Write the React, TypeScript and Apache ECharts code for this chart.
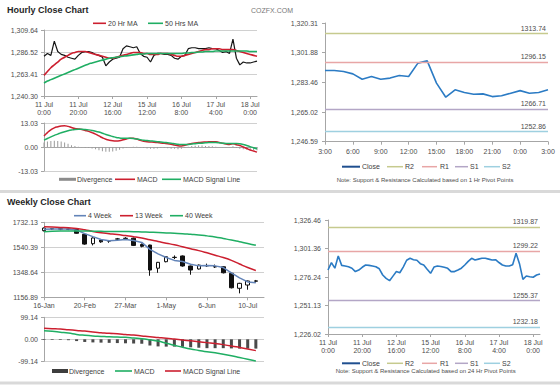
import React, { useEffect, useRef } from 'react';
import * as echarts from 'echarts';

const FONT = '"Liberation Sans", Arial, sans-serif';
const AXIS = '#a6a6a6';
const GRIDC = '#d0d0d0';
const LABEL = '#4d4d4d';

// ---------- Hourly close chart (top left) ----------
const hourTickLabels = ['11 Jul\n0:00', '11 Jul\n20:00', '12 Jul\n16:00', '15 Jul\n12:00', '16 Jul\n8:00', '17 Jul\n4:00', '18 Jul\n0:00'];
const hourlyYLabels = ['1,240.30', '1,263.41', '1,286.52', '1,309.64'];
const hourlyMacdYLabels = ['-13.03', '0.00', '13.03'];

const hourlyClose = [
  1282, 1285, 1283, 1298, 1287, 1284, 1283, 1281, 1280, 1279,
  1283, 1286, 1287, 1287, 1286, 1284, 1283, 1281, 1272, 1276,
  1279, 1280, 1281, 1290, 1293, 1292, 1291, 1292, 1285, 1282,
  1281, 1276, 1283, 1285, 1285, 1284, 1284, 1283, 1280, 1279,
  1282, 1283, 1290, 1291, 1291, 1290, 1290, 1290, 1291, 1290,
  1290, 1288, 1286, 1287, 1285, 1300, 1280, 1273, 1276, 1275,
  1275, 1276, 1277,
];
const hourlyMA20 = [
  1262, 1266, 1270, 1273, 1276, 1279, 1281, 1283, 1285, 1286,
  1287, 1287, 1287, 1286, 1285, 1284, 1283, 1282, 1281, 1280,
  1280, 1281, 1282, 1283, 1284, 1285, 1286, 1286, 1286, 1285,
  1285, 1284, 1284, 1284, 1285, 1285, 1285, 1284, 1283, 1282,
  1282, 1283, 1284, 1285, 1286, 1287, 1288, 1289, 1289, 1290,
  1290, 1290, 1289, 1289, 1289, 1289, 1288, 1287, 1286, 1285,
  1284, 1283, 1282,
];
const hourlyMA50 = [
  1254, 1256, 1257.5, 1259, 1260.5, 1262, 1263.5, 1265, 1266.5, 1268,
  1269.5, 1271, 1272.5, 1274, 1275, 1276, 1277, 1278, 1279, 1280,
  1280.5, 1281, 1281.5, 1282, 1282.5, 1283, 1283.5, 1284, 1284.5, 1284.5,
  1285, 1285, 1285, 1285, 1285, 1285, 1285, 1285, 1285, 1285,
  1285, 1285.5, 1285.5, 1286, 1286, 1286.5, 1286.5, 1287, 1287, 1287,
  1287.5, 1287.5, 1287.5, 1287.5, 1287.5, 1287.5, 1287.5, 1287.5, 1287.5, 1287.5,
  1287, 1287, 1287,
];
const hourlyMacd = [
  6.0, 7.8, 9.3, 10.4, 11.0, 11.4, 11.5, 11.2, 10.6, 10.0,
  9.8, 9.5, 9.0, 8.5, 7.8, 7.0, 6.0, 5.0, 4.2, 3.7,
  3.4, 3.3, 3.4, 3.9, 4.4, 4.7, 4.7, 4.3, 3.6, 3.1,
  2.8, 2.7, 2.6, 2.4, 2.2, 2.0, 1.8, 1.5, 1.1, 0.7,
  0.6, 0.9, 1.5, 1.9, 2.2, 2.4, 2.6, 2.7, 2.8, 2.9,
  2.8, 2.5, 2.0, 1.6, 1.4, 1.8, 1.2, 0.8, 0.0, -0.8,
  -1.6, -2.2, -2.8,
];
const hourlySignal = [
  3.7, 4.6, 5.5, 6.3, 7.0, 7.7, 8.3, 8.8, 9.2, 9.5,
  9.6, 9.6, 9.5, 9.3, 9.0, 8.6, 8.1, 7.5, 6.8, 6.2,
  5.7, 5.2, 4.9, 4.7, 4.7, 4.7, 4.6, 4.3, 4.0, 3.7,
  3.5, 3.3, 3.1, 2.9, 2.7, 2.5, 2.3, 2.1, 1.8, 1.5,
  1.3, 1.3, 1.4, 1.6, 1.8, 2.0, 2.1, 2.3, 2.4, 2.4,
  2.4, 2.3, 2.1, 1.9, 1.9, 1.9, 1.9, 1.8, 1.4, 0.8,
  0.2, -0.4, -0.9,
];
const hourlyDivergence = [
  2.5, 3.0, 3.3, 3.4, 3.2, 3.0, 2.5, 1.8, 1.0, 0.5,
  0.2, -0.2, -0.4, -0.5, -0.8, -1.2, -1.8, -2.3, -2.6, -2.6,
  -2.4, -2.0, -1.5, -0.8, -0.3, 0.0, 0.2, 0.1, -0.3, -0.6,
  -0.8, -1.0, -0.9, -0.8, -0.6, -0.6, -0.7, -0.9, -1.0, -1.2,
  -1.0, -0.5, 0.2, 0.5, 0.7, 0.8, 0.8, 0.6, 0.5, 0.4,
  0.2, 0.0, -0.2, -0.3, -0.2, 0.4, -0.5, -0.9, -1.2, -1.4,
  -1.5, -1.6, -1.7,
];

// ---------- 1 day support / resistance (top right) ----------
const srHourLabels = Array.from({ length: 25 }, (_, i) => `${(3 + i) % 24}:00`);
const srHourYLabels = ['1,246.59', '1,265.02', '1,283.46', '1,301.88', '1,320.31'];
const srHourClose = [
  1290.8, 1290.8, 1290.2, 1288.7, 1285.4, 1287.1, 1285.4, 1286.1, 1287.7, 1287.1,
  1295.4, 1296.8, 1283.0, 1274.2, 1278.8, 1277.1, 1276.1, 1276.3, 1274.6, 1275.1,
  1276.7, 1278.3, 1276.7, 1277.1, 1278.8,
];
const srHourLevels = [1313.74, 1296.15, 1266.71, 1252.86];

// ---------- Weekly close chart (bottom left) ----------
const weekLabels = [
  '16-Jan', '23-Jan', '30-Jan', '6-Feb', '13-Feb', '20-Feb', '27-Feb', '6-Mar', '13-Mar', '20-Mar',
  '27-Mar', '3-Apr', '10-Apr', '17-Apr', '24-Apr', '1-May', '8-May', '15-May', '22-May', '29-May',
  '6-Jun', '12-Jun', '19-Jun', '26-Jun', '3-Jul', '10-Jul', '17-Jul', '',
];
const weeklyYLabels = ['1156.89', '1348.64', '1540.39', '1732.13'];
const weeklyMacdYLabels = ['-99.14', '0.00', '99.14'];
// [open, close, low, high]
const weekCandles = [
  [1668, 1688, 1662, 1692], [1683, 1681, 1675, 1688], [1682, 1680, 1672, 1688], [1680, 1678, 1672, 1684],
  [1676, 1648, 1645, 1680], [1640, 1565, 1560, 1645], [1568, 1612, 1555, 1618], [1596, 1582, 1575, 1600],
  [1590, 1588, 1575, 1596], [1603, 1605, 1596, 1612], [1608, 1610, 1600, 1618], [1610, 1555, 1550, 1615],
  [1562, 1548, 1540, 1570], [1558, 1366, 1322, 1560], [1380, 1425, 1345, 1428], [1430, 1468, 1425, 1472],
  [1462, 1464, 1450, 1478], [1474, 1397, 1392, 1478], [1397, 1366, 1330, 1400], [1374, 1404, 1370, 1408],
  [1398, 1400, 1390, 1415], [1392, 1390, 1382, 1408], [1391, 1345, 1340, 1395], [1341, 1230, 1225, 1345],
  [1226, 1264, 1187, 1268], [1251, 1282, 1215, 1285], [1280, 1283, 1270, 1290],
];
const ma4Week = [
  1678, 1680, 1681, 1680, 1672, 1645, 1622, 1600, 1590, 1594,
  1600, 1592, 1578, 1525, 1490, 1462, 1440, 1432, 1410, 1398,
  1400, 1398, 1385, 1345, 1306, 1275, 1268,
];
const ma13Week = [
  1698, 1696, 1693, 1690, 1685, 1675, 1662, 1652, 1645, 1638,
  1630, 1622, 1612, 1598, 1585, 1572, 1560, 1545, 1530, 1515,
  1498, 1480, 1462, 1440, 1412, 1385, 1362,
];
const ma40Week = [
  1660, 1663, 1665, 1666, 1666, 1665, 1664, 1663, 1662, 1662,
  1661, 1660, 1658, 1656, 1654, 1651, 1648, 1645, 1640, 1635,
  1628, 1620, 1608, 1596, 1583, 1570, 1556,
];
const weeklyMacd = [
  39, 36, 32, 28, 22, 18, 15, 13, 11, 10,
  9, 6, 3, -2, -8, -18, -27, -36, -44, -50,
  -56, -61, -67, -74, -82, -90, -98,
];
const weeklySignal = [
  50, 48, 46, 43, 40, 37, 33, 30, 27, 25,
  22, 19, 15, 11, 8, 5, 1, -3, -7, -11,
  -15, -19, -24, -30, -37, -44, -51,
];
const weeklyDivergence = [
  -3, -3, -3, -4, -8, -12, -14, -15, -16, -17,
  -18, -19, -20, -28, -32, -33, -33, -34, -36, -38,
  -40, -40, -40, -41, -42, -42, -42,
];

// ---------- 1 week support / resistance (bottom right) ----------
const srDayYLabels = ['1,226.02', '1,251.13', '1,276.24', '1,301.36', '1,326.46'];
const srDayClose = [
  1282.4, 1288.9, 1284.0, 1294.7, 1286.5, 1286.0, 1285.3, 1284.0, 1281.0, 1282.4,
  1284.8, 1286.8, 1286.5, 1285.9, 1285.3, 1283.5, 1278.0, 1275.0, 1273.0, 1277.0,
  1281.0, 1280.0, 1285.0, 1291.0, 1292.7, 1291.5, 1291.0, 1288.0, 1286.8, 1283.0,
  1279.5, 1285.0, 1285.9, 1285.5, 1284.8, 1283.9, 1281.0, 1281.0, 1282.4, 1284.0,
  1286.8, 1290.0, 1292.7, 1291.2, 1292.0, 1292.7, 1292.7, 1292.0, 1291.2, 1291.5,
  1289.0, 1286.8, 1285.9, 1285.9, 1287.0, 1297.1, 1288.0, 1274.2, 1277.1, 1276.5,
  1276.0, 1278.0, 1278.9,
];
const srDayLevels = [1319.87, 1299.22, 1255.37, 1232.18];

const srNames = ['R2', 'R1', 'S1', 'S2'];
const srColors = ['#c6ca8e', '#e8a6a6', '#b3a6c6', '#9ed0e0'];
const CLOSE_BLUE = '#2b7bc4';

const hourCats = Array.from({ length: hourlyClose.length }, (_, i) => (i % 10 === 0 ? hourTickLabels[i / 10] : ''));

function yAxisDef(gridIndex: number, min: number, max: number, labels: string[], split: boolean, margin: number, fontSize = 7) {
  const step = (max - min) / (labels.length - 1);
  return {
    type: 'value', gridIndex, min, max, interval: step * (1 + 1e-9),
    axisLine: { show: true, lineStyle: { color: AXIS } },
    axisTick: { show: true, length: 3, lineStyle: { color: AXIS } },
    axisLabel: {
      fontSize, color: LABEL, fontFamily: FONT, margin,
      formatter: (v: number) => labels[Math.round((v - min) / step)] ?? '',
    },
    splitLine: { show: split, lineStyle: { color: GRIDC, width: 1 } },
  };
}

function catAxis(gridIndex: number, data: string[], opts: any) {
  return {
    type: 'category', gridIndex, data, boundaryGap: false,
    axisLine: { show: opts.line !== false, onZero: true, lineStyle: { color: AXIS } },
    axisTick: { show: opts.labels, interval: opts.interval, length: 3, lineStyle: { color: AXIS } },
    axisLabel: {
      show: opts.labels, interval: opts.interval, fontSize: 7, color: LABEL, fontFamily: FONT,
      lineHeight: 8, margin: opts.margin ?? 4,
    },
    splitLine: { show: false },
  };
}

const txt = (x: number, y: number, text: string, o: any = {}) => ({
  type: 'text', x, y, silent: true,
  style: {
    text, fill: o.fill || '#404040', fontSize: o.size || 7, fontFamily: FONT,
    fontWeight: o.weight || 'normal', align: o.align || 'left', verticalAlign: 'middle',
  },
});
const ln = (x1: number, x2: number, y: number, color: string, w = 2) => ({
  type: 'line', silent: true, shape: { x1, y1: y, x2, y2: y }, style: { stroke: color, lineWidth: w },
});
const rc = (x: number, y: number, w: number, h: number, fill: string) => ({
  type: 'rect', silent: true, shape: { x, y, width: w, height: h }, style: { fill },
});

function srLegend(y: number) {
  return [
    ln(342, 360, y, '#1f4f8f', 2), txt(362, y, 'Close'),
    ln(387, 403, y, srColors[0], 1.5), txt(405, y, 'R2'),
    ln(422, 437, y, srColors[1], 1.5), txt(440, y, 'R1'),
    ln(455, 468, y, srColors[2], 1.5), txt(470, y, 'S1'),
    ln(484, 500, y, srColors[3], 1.5), txt(502, y, 'S2'),
  ];
}

function srMarkLine(levels: number[]) {
  return {
    silent: true, symbol: ['none', 'none'], animation: false,
    label: { position: 'insideEndTop', formatter: '{c}', fontSize: 7, color: LABEL, fontFamily: FONT, distance: 2 },
    data: levels.map((v, k) => ({ name: srNames[k], yAxis: v, lineStyle: { color: srColors[k], width: 1.3, type: 'solid' } })),
  };
}

const option: any = {
  animation: false,
  backgroundColor: '#ffffff',
  textStyle: { fontFamily: FONT },
  grid: [
    { left: 44, top: 30, width: 213, height: 66 },
    { left: 44, top: 123, width: 213, height: 48 },
    { left: 325, top: 23, width: 223, height: 118.7 },
    { left: 44, top: 222.3, width: 220, height: 75 },
    { left: 44, top: 317.3, width: 220, height: 44 },
    { left: 328, top: 220, width: 212, height: 114 },
  ],
  xAxis: [
    catAxis(0, hourCats, { labels: true, interval: 9, margin: 4 }),
    catAxis(1, hourCats, { labels: false }),
    catAxis(2, srHourLabels, { labels: true, interval: 2, margin: 6 }),
    catAxis(3, weekLabels, { labels: true, interval: 4, margin: 4 }),
    catAxis(4, weekLabels, { labels: false, line: false }),
    catAxis(5, hourCats, { labels: true, interval: 9, margin: 4 }),
  ],
  yAxis: [
    yAxisDef(0, 1240.30, 1309.64, hourlyYLabels, true, 6),
    yAxisDef(1, -13.03, 13.03, hourlyMacdYLabels, true, 6),
    yAxisDef(2, 1246.59, 1320.31, srHourYLabels, false, 7),
    yAxisDef(3, 1156.89, 1732.13, weeklyYLabels, true, 6),
    yAxisDef(4, -99.14, 99.14, weeklyMacdYLabels, true, 6),
    yAxisDef(5, 1226.02, 1326.46, srDayYLabels, false, 7),
  ],
  series: [
    { type: 'line', name: 'Close', xAxisIndex: 0, yAxisIndex: 0, data: hourlyClose, symbol: 'none', lineStyle: { color: '#151515', width: 1.2 }, itemStyle: { color: '#151515' } },
    { type: 'line', name: '20 Hr MA', xAxisIndex: 0, yAxisIndex: 0, data: hourlyMA20, symbol: 'none', smooth: true, lineStyle: { color: '#cc1f2f', width: 1.6 }, itemStyle: { color: '#cc1f2f' } },
    { type: 'line', name: '50 Hrs MA', xAxisIndex: 0, yAxisIndex: 0, data: hourlyMA50, symbol: 'none', smooth: true, lineStyle: { color: '#1fae63', width: 1.6 }, itemStyle: { color: '#1fae63' } },

    { type: 'bar', name: 'Divergence', xAxisIndex: 1, yAxisIndex: 1, data: hourlyDivergence, barWidth: 1, itemStyle: { color: '#9a9a9a' } },
    { type: 'line', name: 'MACD', xAxisIndex: 1, yAxisIndex: 1, data: hourlyMacd, symbol: 'none', smooth: true, lineStyle: { color: '#cc1f2f', width: 1.5 }, itemStyle: { color: '#cc1f2f' } },
    { type: 'line', name: 'MACD Signal Line', xAxisIndex: 1, yAxisIndex: 1, data: hourlySignal, symbol: 'none', smooth: true, lineStyle: { color: '#1fae63', width: 1.5 }, itemStyle: { color: '#1fae63' } },

    { type: 'line', name: 'Close', xAxisIndex: 2, yAxisIndex: 2, data: srHourClose, symbol: 'none', lineStyle: { color: CLOSE_BLUE, width: 1.6 }, itemStyle: { color: CLOSE_BLUE }, markLine: srMarkLine(srHourLevels) },

    { type: 'line', name: '4 Week', xAxisIndex: 3, yAxisIndex: 3, data: ma4Week, symbol: 'none', lineStyle: { color: '#6384b8', width: 1.5 }, itemStyle: { color: '#6384b8' } },
    { type: 'line', name: '13 Week', xAxisIndex: 3, yAxisIndex: 3, data: ma13Week, symbol: 'none', smooth: true, lineStyle: { color: '#cc1f2f', width: 1.5 }, itemStyle: { color: '#cc1f2f' } },
    { type: 'line', name: '40 Week', xAxisIndex: 3, yAxisIndex: 3, data: ma40Week, symbol: 'none', smooth: true, lineStyle: { color: '#1fae63', width: 1.5 }, itemStyle: { color: '#1fae63' } },
    {
      type: 'candlestick', name: 'Weekly', xAxisIndex: 3, yAxisIndex: 3, data: weekCandles, barWidth: 4, clip: false,
      itemStyle: { color: '#ffffff', color0: '#111111', borderColor: '#111111', borderColor0: '#111111', borderWidth: 1 },
    },

    { type: 'bar', name: 'Divergence', xAxisIndex: 4, yAxisIndex: 4, data: weeklyDivergence, barWidth: 3, itemStyle: { color: '#4a4a4a' } },
    { type: 'line', name: 'MACD', xAxisIndex: 4, yAxisIndex: 4, data: weeklyMacd, symbol: 'none', smooth: true, lineStyle: { color: '#1fae63', width: 1.5 }, itemStyle: { color: '#1fae63' } },
    { type: 'line', name: 'MACD Signal Line', xAxisIndex: 4, yAxisIndex: 4, data: weeklySignal, symbol: 'none', smooth: true, lineStyle: { color: '#cc1f2f', width: 1.5 }, itemStyle: { color: '#cc1f2f' } },

    { type: 'line', name: 'Close', xAxisIndex: 5, yAxisIndex: 5, data: srDayClose, symbol: 'none', lineStyle: { color: CLOSE_BLUE, width: 1.6 }, itemStyle: { color: CLOSE_BLUE }, markLine: srMarkLine(srDayLevels) },
  ],
  graphic: [
    rc(0, 190, 560, 3, '#d9d9d9'),
    rc(0, 381.5, 560, 3, '#d9d9d9'),
    txt(7, 10, 'Hourly Close Chart', { weight: 'bold', size: 9, fill: '#262626' }),
    txt(251, 10, 'COZFX.COM', { size: 7, fill: '#777777' }),
    txt(7, 202, 'Weekly Close Chart', { weight: 'bold', size: 9, fill: '#262626' }),

    ln(93, 106, 23.3, '#cc1f2f', 1.6), txt(108, 23.3, '20 Hr MA'),
    ln(148, 163, 23.3, '#1fae63', 1.6), txt(165, 23.3, '50 Hrs MA'),

    ln(59, 76, 179.3, '#8c8c8c', 3), txt(77, 179.3, 'Divergence'),
    ln(115, 135, 179.3, '#cc1f2f', 1.6), txt(137, 179.3, 'MACD'),
    ln(162, 181, 179.3, '#1fae63', 1.6), txt(183, 179.3, 'MACD Signal Line'),

    ...srLegend(166.7),
    txt(425, 180, 'Note: Support & Resistance Calculated based on 1 Hr Pivot Points', { size: 6, align: 'center', fill: '#4d4d4d' }),

    ln(74, 86, 215.7, '#6384b8', 1.6), txt(88, 215.7, '4 Week'),
    ln(120, 133, 215.7, '#cc1f2f', 1.6), txt(135, 215.7, '13 Week'),
    ln(170, 183, 215.7, '#1fae63', 1.6), txt(185, 215.7, '40 Week'),

    ln(52, 68, 371, '#3d3d3d', 4), txt(69, 371, 'Divergence'),
    ln(115, 132, 371, '#1fae63', 1.6), txt(134, 371, 'MACD'),
    ln(165, 181, 371, '#cc1f2f', 1.6), txt(183, 371, 'MACD Signal Line'),

    ...srLegend(363.3),
    txt(425.7, 370.7, 'Note: Support & Resistance Calculated based on 24 Hr Pivot Points', { size: 6, align: 'center', fill: '#4d4d4d' }),
  ],
};

export default function App() {
  const ref = useRef<HTMLDivElement>(null);
  useEffect(() => {
    if (!ref.current) return;
    const chart = echarts.init(ref.current, null, { renderer: 'svg', width: 560, height: 385 });
    chart.setOption(option);
    return () => chart.dispose();
  }, []);
  return (
    <div
      ref={ref}
      style={{ position: 'absolute', left: 0, top: 0, width: 560, height: 385, background: '#ffffff' }}
    />
  );
}
